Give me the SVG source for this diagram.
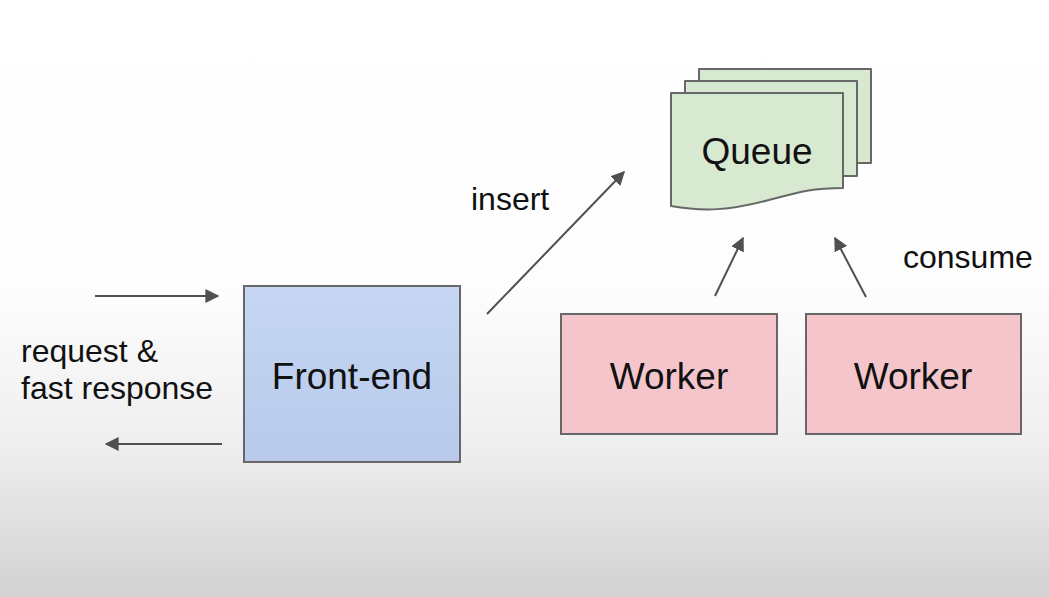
<svg xmlns="http://www.w3.org/2000/svg" width="1049" height="597" viewBox="0 0 1049 597">
  <defs>
    <linearGradient id="bg" x1="0" y1="0" x2="0" y2="1">
      <stop offset="0" stop-color="#ffffff"/>
      <stop offset="0.48" stop-color="#fdfdfd"/>
      <stop offset="0.74" stop-color="#efefef"/>
      <stop offset="1" stop-color="#d2d2d2"/>
    </linearGradient>
    <linearGradient id="blueFill" x1="0" y1="0" x2="0" y2="1">
      <stop offset="0" stop-color="#c6d6f4"/>
      <stop offset="1" stop-color="#b8c9ea"/>
    </linearGradient>
    <marker id="arrow" viewBox="0 0 10 10" refX="9" refY="5" markerWidth="7" markerHeight="7" orient="auto" markerUnits="strokeWidth">
      <path d="M0,0 L10,5 L0,10 z" fill="#505050"/>
    </marker>
    <style>
      .box { stroke: #676767; stroke-width: 2; }
      .worker { fill: #f4c6cc; }
      .queue { fill: #d8e9d2; stroke: #676767; stroke-width: 2; stroke-linejoin: round; }
      .label { font-family: "Liberation Sans", Arial, sans-serif; fill: #111111; }
      .title { font-size: 37px; text-anchor: middle; }
      .note { font-size: 32px; }
      .conn { stroke: #505050; stroke-width: 2; fill: none; marker-end: url(#arrow); }
    </style>
  </defs>

  <rect x="0" y="0" width="1049" height="597" fill="url(#bg)"/>

  <!-- Front-end -->
  <g id="frontend">
    <rect class="box" x="244" y="286" width="216" height="176" fill="url(#blueFill)"/>
    <text class="label title" x="352" y="389">Front-end</text>
  </g>

  <!-- Queue: stacked documents -->
  <g id="queue">
    <path class="queue" d="M699,69 H871 V163 H699 Z"/>
    <path class="queue" d="M685,81 H857 V176 H685 Z"/>
    <path class="queue" d="M671,93 H843 V188 C805,188 790,195 765,201 C730,210 705,212 671,206 Z"/>
    <text class="label title" x="757" y="164">Queue</text>
  </g>

  <!-- Workers -->
  <g id="worker1">
    <rect class="box worker" x="561" y="314" width="216" height="120"/>
    <text class="label title" x="669" y="389">Worker</text>
  </g>
  <g id="worker2">
    <rect class="box worker" x="806" y="314" width="215" height="120"/>
    <text class="label title" x="913" y="389">Worker</text>
  </g>

  <!-- Connectors -->
  <g id="connectors">
    <line class="conn" x1="95" y1="296" x2="218" y2="296"/>
    <line class="conn" x1="222" y1="444" x2="106" y2="444"/>
    <line class="conn" x1="487" y1="314" x2="624" y2="172"/>
    <line class="conn" x1="715" y1="296" x2="743" y2="238"/>
    <line class="conn" x1="866" y1="297" x2="835" y2="238"/>
  </g>

  <!-- Labels -->
  <g id="labels">
    <text class="label note" x="21" y="362">request &amp;</text>
    <text class="label note" x="21" y="399">fast response</text>
    <text class="label note" x="471" y="210">insert</text>
    <text class="label note" x="903" y="268">consume</text>
  </g>
</svg>
